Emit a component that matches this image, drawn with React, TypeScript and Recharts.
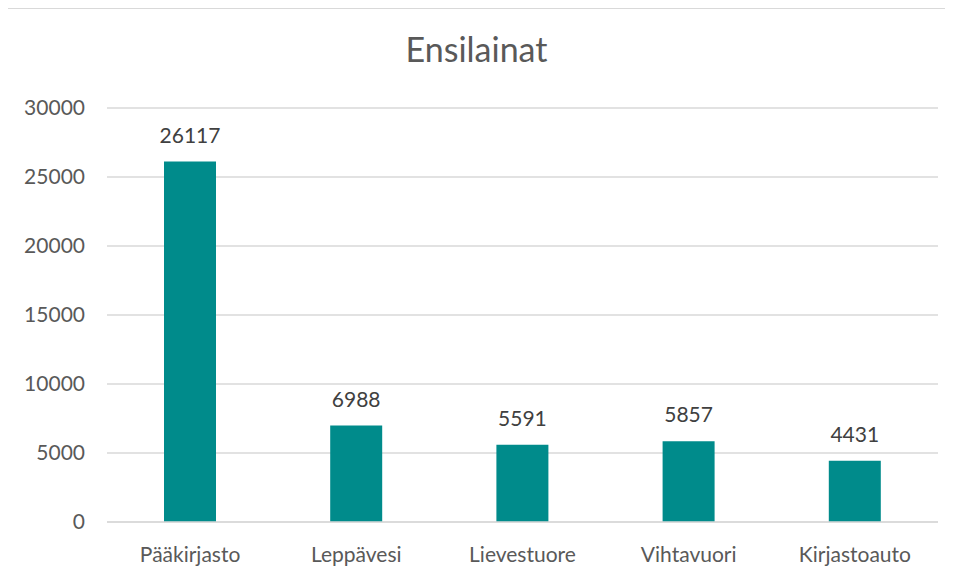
import { Bar, BarChart, CartesianGrid, LabelList, XAxis, YAxis } from "recharts";

const branches = ["Pääkirjasto", "Leppävesi", "Lievestuore", "Vihtavuori", "Kirjastoauto"];
const firstLoans = [26117, 6988, 5591, 5857, 4431];
const yTicks = [0, 5000, 10000, 15000, 20000, 25000, 30000];

const data = branches.map((name, i) => ({ name, value: firstLoans[i] }));

const font = "Lato, 'Open Sans', sans-serif";
const tickStyle = { fill: "#595959", fontSize: 21, fontFamily: font };

export default function App() {
  return (
    <div
      style={{
        position: "relative",
        width: 953,
        height: 577,
        margin: -8,
        overflow: "hidden",
        background: "#fff",
      }}
    >
      <div
        style={{
          position: "absolute",
          left: 7,
          top: 8,
          width: 960,
          height: 600,
          border: "1.5px solid #d9d9d9",
          boxSizing: "border-box",
        }}
      />
      <div
        style={{
          position: "absolute",
          top: 29,
          left: 0,
          width: 953,
          textAlign: "center",
          fontFamily: font,
          fontSize: 34,
          lineHeight: 1.2,
          color: "#595959",
        }}
      >
        Ensilainat
      </div>
      <div style={{ position: "absolute", left: 0, top: 0 }}>
        <BarChart
          width={953}
          height={577}
          data={data}
          margin={{ top: 108, right: 15, left: 27, bottom: 0 }}
        >
          <CartesianGrid vertical={false} stroke="#d9d9d9" strokeWidth={1.5} />
          <XAxis
            dataKey="name"
            height={55}
            axisLine={{ stroke: "#d9d9d9", strokeWidth: 1.5 }}
            tickLine={false}
            tickMargin={19}
            tick={tickStyle}
          />
          <YAxis
            width={80}
            domain={[0, 30000]}
            ticks={yTicks}
            axisLine={false}
            tickLine={false}
            tickMargin={16}
            tick={tickStyle}
          />
          <Bar dataKey="value" fill="#008b8b" barSize={52} isAnimationActive={false}>
            <LabelList
              dataKey="value"
              position="top"
              offset={19}
              fill="#404040"
              fontSize={21}
              fontFamily={font}
            />
          </Bar>
        </BarChart>
      </div>
    </div>
  );
}
